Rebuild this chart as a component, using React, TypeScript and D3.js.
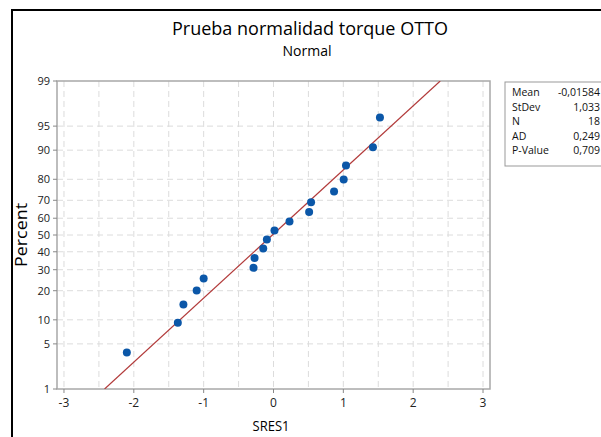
import * as d3 from "d3";

// valores
const sres = [
  -2.1, -1.37, -1.29, -1.1, -1.0, -0.286, -0.271, -0.147, -0.095, 0.014, 0.229,
  0.51, 0.538, 0.867, 1.005, 1.038, 1.424, 1.524,
];
const percents = [
  3.8, 9.24, 14.67, 20.11, 25.54, 30.98, 36.41, 41.85, 47.28, 52.72, 58.15,
  63.59, 69.02, 74.46, 79.89, 85.33, 90.76, 96.2,
];
const yTicks = [1, 5, 10, 20, 30, 40, 50, 60, 70, 80, 90, 95, 99];
const xTicks = [-3, -2, -1, 0, 1, 2, 3];
const xGrid = [-3, -2.5, -2, -1.5, -1, -0.5, 0, 0.5, 1, 1.5, 2, 2.5, 3];
const statLabels = ["Mean", "StDev", "N", "AD", "P-Value"];
const statValues = ["-0,01584", "1,033", "18", "0,249", "0,709"];
const mean = -0.01584;
const stdev = 1.033;

const W = 601;
const H = 437;
const font = "'Open Sans', 'Noto Sans', sans-serif";

export default function App() {
  const left = 57;
  const right = 490;
  const top = 81;
  const bottom = 389;

  const x = d3.scaleLinear().domain([-3.1, 3.1]).range([left, right]);
  // escala de probabilidad normal (1% .. 99%)
  const zMax = probit(0.99);
  const yz = d3.scaleLinear().domain([-zMax, zMax]).range([bottom, top]);
  const y = (p: number) => yz(probit(p / 100));

  const line = d3
    .line<number>()
    .x((zz) => x(mean + stdev * zz))
    .y((zz) => yz(zz));

  return (
    <svg
      width={W}
      height={H}
      style={{ position: "absolute", left: 0, top: 0, background: "#fff" }}
      fontFamily={font}
    >
      <rect x={12} y={10} width={W} height={H} fill="none" stroke="#000" strokeWidth={2} />
      <text x={310} y={35} textAnchor="middle" fontSize={18} fill="#000">
        Prueba normalidad torque OTTO
      </text>
      <text x={307} y={56} textAnchor="middle" fontSize={14} fill="#000">
        Normal
      </text>

      <defs>
        <clipPath id="plot">
          <rect x={left} y={top} width={right - left} height={bottom - top} />
        </clipPath>
      </defs>

      <g stroke="#dcdcdc" strokeDasharray="6,4" strokeWidth={1}>
        {xGrid.map((v) => (
          <line key={"gx" + v} x1={x(v)} x2={x(v)} y1={top} y2={bottom} />
        ))}
        {yTicks
          .filter((p) => p > 1 && p < 99)
          .map((p) => (
            <line key={"gy" + p} x1={left} x2={right} y1={y(p)} y2={y(p)} />
          ))}
      </g>

      <rect
        x={left}
        y={top}
        width={right - left}
        height={bottom - top}
        fill="none"
        stroke="#a8a8a8"
        strokeWidth={1.5}
      />

      <g fontSize={11} fill="#222">
        {yTicks.map((p) => (
          <g key={"ty" + p}>
            <line x1={left - 4} x2={left} y1={y(p)} y2={y(p)} stroke="#888" />
            <text x={left - 7} y={y(p)} dy="0.35em" textAnchor="end">
              {p}
            </text>
          </g>
        ))}
      </g>
      <g fontSize={12} fill="#222">
        {xTicks.map((v) => (
          <g key={"tx" + v}>
            <line x1={x(v)} x2={x(v)} y1={bottom} y2={bottom + 4} stroke="#888" />
            <text x={x(v)} y={bottom + 18} textAnchor="middle">
              {v}
            </text>
          </g>
        ))}
      </g>

      <text
        x={271}
        y={431}
        textAnchor="middle"
        fontSize={15}
        fill="#000"
        textLength={37}
        lengthAdjust="spacingAndGlyphs"
      >
        SRES1
      </text>
      <text
        transform={`translate(27,${(top + bottom) / 2}) rotate(-90)`}
        textAnchor="middle"
        fontSize={16}
        fill="#000"
        textLength={64}
        lengthAdjust="spacingAndGlyphs"
      >
        Percent
      </text>

      <g clipPath="url(#plot)">
        <path d={line([-zMax, zMax]) || ""} fill="none" stroke="#b23a3a" strokeWidth={1.2} />
      </g>

      <g fill="#0b57a8">
        {sres.map((v, i) => (
          <circle key={i} cx={x(v)} cy={y(percents[i])} r={4} />
        ))}
      </g>

      <rect x={505} y={82} width={110} height={84} fill="#fff" stroke="#999" />
      <g fontSize={10.5} fill="#111">
        {statLabels.map((l, i) => (
          <g key={l}>
            <text x={512} y={96 + i * 14.5}>
              {l}
            </text>
            <text x={600} y={96 + i * 14.5} textAnchor="end">
              {statValues[i]}
            </text>
          </g>
        ))}
      </g>
    </svg>
  );
}

// aproximación de Acklam para la inversa de la normal
function probit(p: number) {
  const a = [-39.69683028665376, 220.9460984245205, -275.9285104469687, 138.357751867269, -30.66479806614716, 2.506628277459239];
  const b = [-54.47609879822406, 161.5858589980675, -155.6989798598866, 66.80131188771972, -13.28068155288572];
  const c = [-0.007784894002430293, -0.3223964580411365, -2.400758277161838, -2.549732539343734, 4.374664141464968, 2.938163982698783];
  const d = [0.007784695709041462, 0.3224671290700398, 2.445134137142996, 3.754408661907416];
  const pl = 0.02425;
  if (p < pl) {
    const q = Math.sqrt(-2 * Math.log(p));
    return (((((c[0] * q + c[1]) * q + c[2]) * q + c[3]) * q + c[4]) * q + c[5]) / ((((d[0] * q + d[1]) * q + d[2]) * q + d[3]) * q + 1);
  }
  if (p > 1 - pl) {
    const q = Math.sqrt(-2 * Math.log(1 - p));
    return -(((((c[0] * q + c[1]) * q + c[2]) * q + c[3]) * q + c[4]) * q + c[5]) / ((((d[0] * q + d[1]) * q + d[2]) * q + d[3]) * q + 1);
  }
  const q = p - 0.5;
  const r = q * q;
  return ((((((a[0] * r + a[1]) * r + a[2]) * r + a[3]) * r + a[4]) * r + a[5]) * q) / (((((b[0] * r + b[1]) * r + b[2]) * r + b[3]) * r + b[4]) * r + 1);
}
